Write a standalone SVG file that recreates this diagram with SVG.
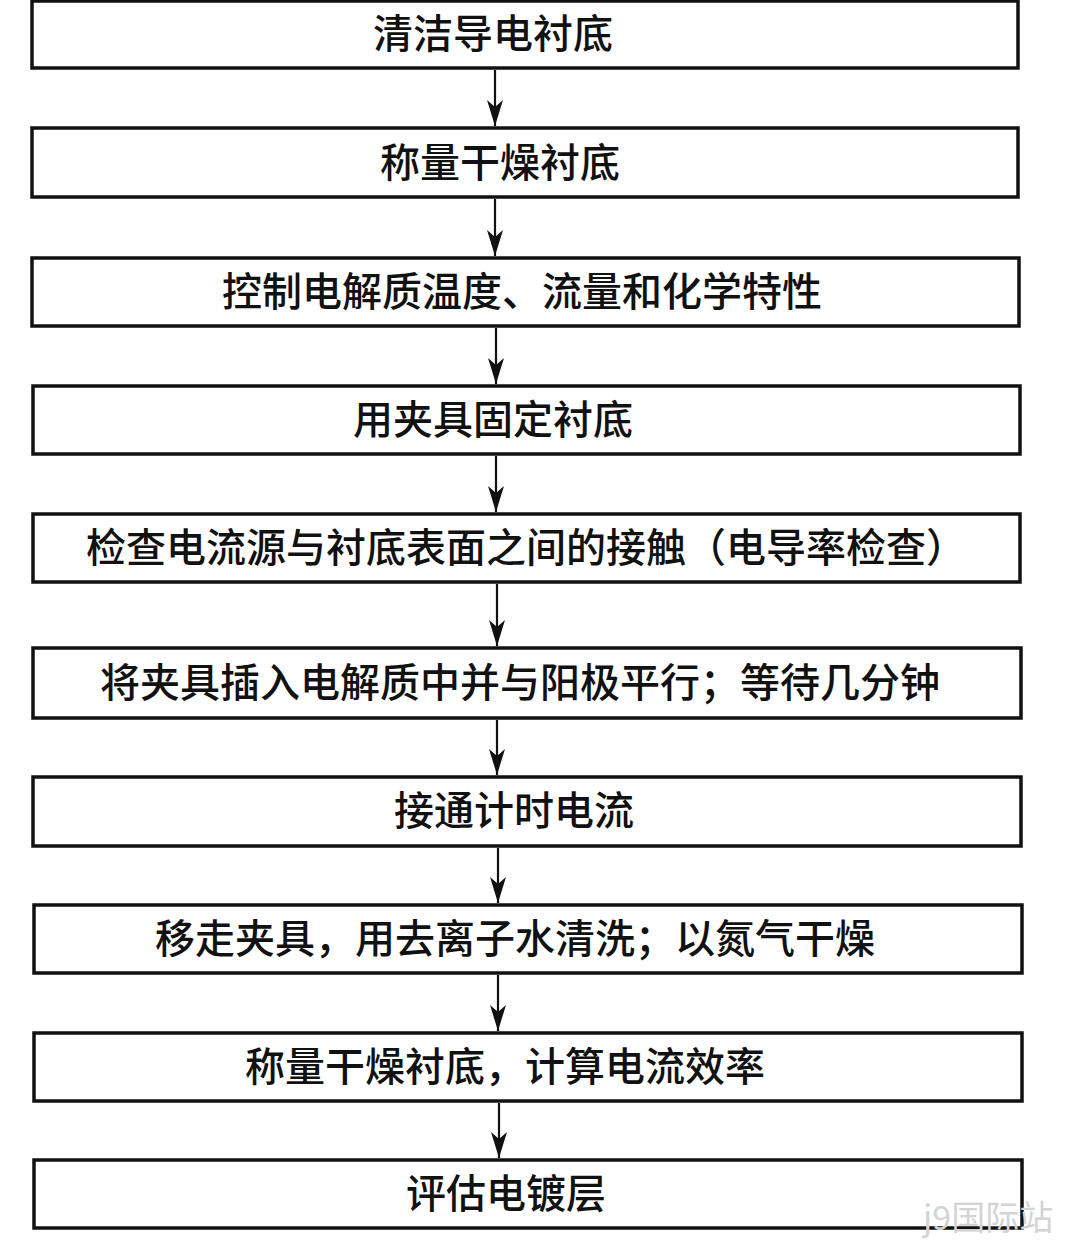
<svg xmlns="http://www.w3.org/2000/svg" width="1080" height="1248" viewBox="0 0 1080 1248">
<style>
.box{fill:#fff;stroke:#111;stroke-width:3.5}
.t{font-family:"Noto Sans CJK SC","Noto Sans",sans-serif;font-size:40px;font-weight:500;fill:#111;text-anchor:middle}
.c{stroke:#111;stroke-width:2.2;fill:none}
.wm{font-family:"Noto Sans CJK SC","Noto Sans",sans-serif;font-size:34px;fill:#d4d4d4}
</style>
<defs>
<marker id="ah" viewBox="0 0 26 16" refX="26" refY="8" markerWidth="26" markerHeight="16" markerUnits="userSpaceOnUse" orient="auto">
<path d="M0,0 L26,8 L0,16 L7,8 Z" fill="#111"/>
</marker>
</defs>
<rect width="1080" height="1248" fill="#fff"/>
<g id="n1"><rect class="box" x="32" y="1" width="986" height="67"/><text class="t" x="493" y="48">清洁导电衬底</text></g>
<g id="n2"><rect class="box" x="32" y="128" width="986" height="69"/><text class="t" x="500" y="177">称量干燥衬底</text></g>
<g id="n3"><rect class="box" x="32" y="258" width="987" height="68"/><text class="t" x="522" y="306">控制电解质温度、流量和化学特性</text></g>
<g id="n4"><rect class="box" x="33" y="386" width="987" height="68"/><text class="t" x="493" y="434">用夹具固定衬底</text></g>
<g id="n5"><rect class="box" x="33" y="514" width="987" height="68"/><text class="t" x="526" y="562">检查电流源与衬底表面之间的接触（电导率检查）</text></g>
<g id="n6"><rect class="box" x="33" y="648" width="988" height="70"/><text class="t" x="520" y="697">将夹具插入电解质中并与阳极平行；等待几分钟</text></g>
<g id="n7"><rect class="box" x="33" y="777" width="988" height="69"/><text class="t" x="514" y="825">接通计时电流</text></g>
<g id="n8"><rect class="box" x="34" y="905" width="988" height="68"/><text class="t" x="515" y="953">移走夹具，用去离子水清洗；以氮气干燥</text></g>
<g id="n9"><rect class="box" x="34" y="1033" width="988" height="68"/><text class="t" x="505" y="1081">称量干燥衬底，计算电流效率</text></g>
<g id="n10"><rect class="box" x="34" y="1160" width="988" height="68"/><text class="t" x="506" y="1208">评估电镀层</text></g>
<g id="connectors">
<line class="c" x1="495" y1="70" x2="495" y2="126" marker-end="url(#ah)"/>
<line class="c" x1="495" y1="199" x2="495" y2="256" marker-end="url(#ah)"/>
<line class="c" x1="496" y1="328" x2="496" y2="384" marker-end="url(#ah)"/>
<line class="c" x1="496" y1="456" x2="496" y2="512" marker-end="url(#ah)"/>
<line class="c" x1="497" y1="584" x2="497" y2="646" marker-end="url(#ah)"/>
<line class="c" x1="497" y1="720" x2="497" y2="775" marker-end="url(#ah)"/>
<line class="c" x1="498" y1="848" x2="498" y2="903" marker-end="url(#ah)"/>
<line class="c" x1="498" y1="975" x2="498" y2="1031" marker-end="url(#ah)"/>
<line class="c" x1="499" y1="1103" x2="499" y2="1158" marker-end="url(#ah)"/>
</g>
<text class="wm" x="923" y="1230">j9国际站</text>
</svg>
